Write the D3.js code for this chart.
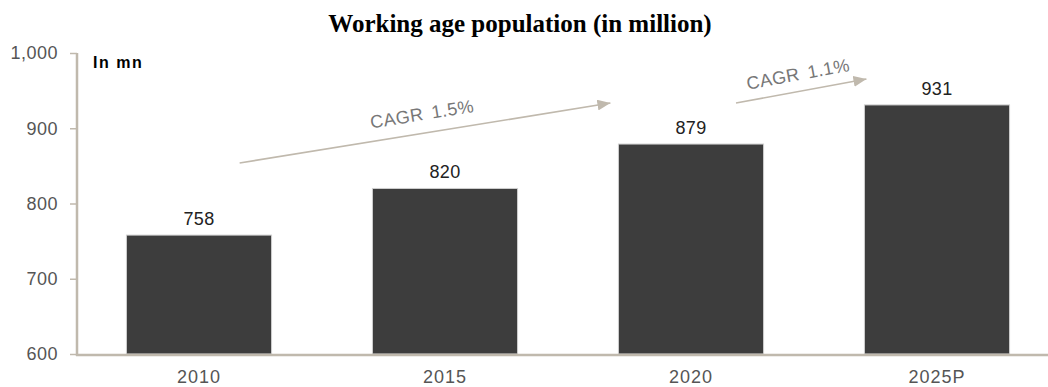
<!DOCTYPE html>
<html>
<head>
<meta charset="utf-8">
<script src="https://cdn.jsdelivr.net/npm/d3@7"></script>
<style>
  html, body { margin: 0; padding: 0; background: #fff; }
  svg { display: block; }
</style>
</head>
<body>
<svg id="chart" width="1048" height="387"></svg>
<script>
// Working age population, millions
const years = ["2010", "2015", "2020", "2025P"];
const population = [758, 820, 879, 931];
const yTicks = [600, 700, 800, 900, 1000];
const cagrFrom = ["2010", "2020"];
const cagrTo = ["2020", "2025P"];
const cagrText = ["CAGR 1.5%", "CAGR 1.1%"];

const svg = d3.select("#chart");
const axisColor = "#c0b9ad";
const barColor = "#3d3d3d";
const sans = "Liberation Sans, Arial, sans-serif";

const x = d3.scaleBand().domain(years).range([76, 1060]).paddingInner(0.41).paddingOuter(0.205);
const y = d3.scaleLinear().domain([600, 1000]).range([354, 53]);

// Title
svg.append("text")
  .attr("x", 520).attr("y", 32)
  .attr("text-anchor", "middle")
  .attr("font-family", "Liberation Serif, Times New Roman, serif")
  .attr("font-weight", "bold")
  .attr("font-size", 25)
  .attr("fill", "#000")
  .text("Working age population (in million)");

// Unit label
svg.append("text")
  .attr("x", 93).attr("y", 68)
  .attr("font-family", sans)
  .attr("font-weight", "bold")
  .attr("font-size", 16)
  .attr("letter-spacing", 1.5)
  .attr("fill", "#000")
  .text("In mn");

// Bars
svg.append("g").selectAll("rect")
  .data(years)
  .join("rect")
  .attr("x", d => x(d))
  .attr("width", x.bandwidth())
  .attr("y", (d, i) => y(population[i]))
  .attr("height", (d, i) => y(600) - y(population[i]))
  .attr("fill", barColor)
  .attr("stroke", "#cfcfcf")
  .attr("stroke-width", 1);

// Value labels
svg.append("g").selectAll("text")
  .data(years)
  .join("text")
  .attr("x", d => x(d) + x.bandwidth() / 2)
  .attr("y", (d, i) => y(population[i]) - 10)
  .attr("text-anchor", "middle")
  .attr("font-family", sans)
  .attr("font-size", 18)
  .attr("letter-spacing", 0.3)
  .attr("fill", "#222")
  .text((d, i) => population[i]);

// Y axis
const yAxis = svg.append("g")
  .attr("transform", "translate(77,0)")
  .call(d3.axisLeft(y).tickValues(yTicks).tickFormat(d3.format(",")).tickSize(7).tickSizeOuter(0));
yAxis.select(".domain").attr("stroke", axisColor).attr("stroke-width", 2.5).attr("d", "M0,53V356");
yAxis.selectAll(".tick line").attr("stroke", axisColor).attr("stroke-width", 1.5);
yAxis.selectAll(".tick text")
  .attr("x", -19)
  .attr("font-family", sans)
  .attr("font-size", 18)
  .attr("letter-spacing", 0.5)
  .attr("fill", "#555");

// X axis
const xAxis = svg.append("g")
  .attr("transform", "translate(0,355)")
  .call(d3.axisBottom(x).tickSize(0));
xAxis.select(".domain").attr("stroke", axisColor).attr("stroke-width", 2.5).attr("d", "M76,0H1048");
xAxis.selectAll(".tick text")
  .attr("y", 0)
  .attr("dy", 28)
  .attr("font-family", sans)
  .attr("font-size", 18)
  .attr("letter-spacing", 1)
  .attr("fill", "#555");

// CAGR arrows
svg.append("defs").append("marker")
  .attr("id", "head")
  .attr("viewBox", "0 0 12 10")
  .attr("refX", 12).attr("refY", 5)
  .attr("markerWidth", 13).attr("markerHeight", 11)
  .attr("markerUnits", "userSpaceOnUse")
  .attr("orient", "auto")
  .append("path").attr("d", "M0,0L12,5L0,10Z").attr("fill", axisColor);

const arrows = [
  { x1: x(cagrFrom[0]) + x.bandwidth() * 0.78, y1: 163, x2: x(cagrTo[0]) - 8, y2: 103, off: 13 },
  { x1: x(cagrFrom[1]) + x.bandwidth() * 0.81, y1: 103, x2: x(cagrTo[1]) + 2, y2: 79, off: 11 }
];
arrows.forEach((a, i) => {
  svg.append("line")
    .attr("x1", a.x1).attr("y1", a.y1).attr("x2", a.x2).attr("y2", a.y2)
    .attr("stroke", axisColor).attr("stroke-width", 1.6)
    .attr("marker-end", "url(#head)");
  const ang = Math.atan2(a.y2 - a.y1, a.x2 - a.x1) * 180 / Math.PI;
  const mx = (a.x1 + a.x2) / 2, my = (a.y1 + a.y2) / 2;
  svg.append("text")
    .attr("transform", `translate(${mx},${my}) rotate(${ang})`)
    .attr("y", -a.off)
    .attr("text-anchor", "middle")
    .attr("font-family", sans)
    .attr("font-size", 18)
    .attr("letter-spacing", 0.4)
    .attr("word-spacing", 3)
    .attr("fill", "#777")
    .text(cagrText[i]);
});
</script>
</body>
</html>
